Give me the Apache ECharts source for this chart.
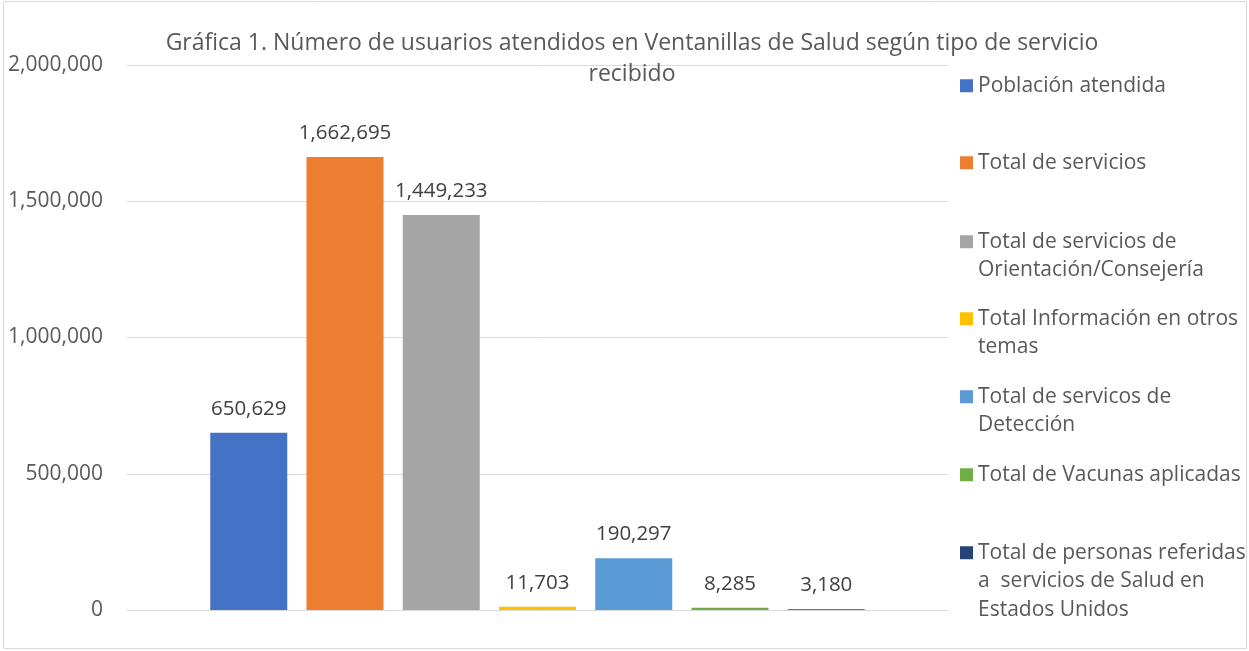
<!DOCTYPE html>
<html>
<head>
<meta charset="utf-8">
<script src="https://cdn.jsdelivr.net/npm/echarts@6/dist/echarts.min.js"></script>
<style>
	html, body { margin: 0; padding: 0; background: #fff; }
	#main { width: 1249px; height: 651px; }
</style>
</head>
<body>
<div id="main"></div>
<script>
var seriesNames = [
		'Población atendida',
		'Total de servicios',
		'Total de servicios de\nOrientación/Consejería',
		'Total Información en otros\ntemas',
		'Total de servicos de\nDetección',
		'Total de Vacunas aplicadas',
		'Total de personas referidas\na  servicios de Salud en\nEstados Unidos'
	],
	seriesValues = [650629, 1662695, 1449233, 11703, 190297, 8285, 3180],
	seriesColors = ['#4472C4', '#ED7D31', '#A5A5A5', '#FFC000', '#5B9BD5', '#70AD47', '#264478'],
	yTicks = [0, 500000, 1000000, 1500000, 2000000];

var chart = echarts.init(document.getElementById('main')),
	font = 'Open Sans',
	lineH = 28.5,
	// centro de la primera línea de cada elemento de la leyenda
	legendY = [84, 161, 240, 317, 395, 473, 551];

function fmt(v){
	return v.toString().replace(/\B(?=(\d{3})+(?!\d))/g, ',');
}

function repeat(s, n){
	var out = '';
	for(var i = 0; i < n; i++) out += s;
	return out;
}

var series = seriesNames.map(function(name, i){
	return {
		name: name,
		type: 'bar',
		data: [seriesValues[i]],
		barWidth: 77,
		barGap: '25%',
		itemStyle: { color: seriesColors[i] },
		label: {
			show: true,
			position: 'top',
			distance: 13,
			formatter: function(p){ return fmt(p.value); },
			color: '#404040',
			fontFamily: font,
			fontSize: 20.5
		}
	};
});

// una leyenda por serie: espaciado fijo como en el original
var legends = seriesNames.map(function(name, i){
	var n = name.split('\n').length;
	return {
		orient: 'vertical',
		left: 960,
		top: legendY[i] - 12.5 - lineH * (n - 1),
		padding: 0,
		itemWidth: 13,
		itemHeight: 13,
		itemGap: 0,
		icon: 'rect',
		selectedMode: false,
		data: [name],
		// líneas vacías arriba para que el icono quede junto a la primera línea
		formatter: function(nm){ return repeat('\n', n - 1) + nm; },
		textStyle: {
			color: '#595959',
			fontFamily: font,
			fontSize: 21,
			lineHeight: lineH
		}
	};
});

chart.setOption({
	animation: false,
	title: {
		text: 'Gráfica 1. Número de usuarios atendidos en Ventanillas de Salud según tipo de servicio\nrecibido',
		left: 627,
		textAlign: 'center',
		top: 23,
		textStyle: {
			color: '#595959',
			fontFamily: font,
			fontSize: 23,
			fontWeight: 'normal',
			lineHeight: 31
		}
	},
	legend: legends,
	grid: {
		left: 127,
		right: 301,
		top: 65,
		bottom: 41,
		containLabel: false
	},
	xAxis: {
		type: 'category',
		data: [''],
		axisLine: { lineStyle: { color: '#d9d9d9', width: 1 } },
		axisTick: { show: false },
		axisLabel: { show: false }
	},
	yAxis: {
		type: 'value',
		min: yTicks[0],
		max: yTicks[yTicks.length - 1],
		interval: 500000,
		axisLine: { show: false },
		axisTick: { show: false },
		splitLine: { lineStyle: { color: '#d9d9d9', width: 1 } },
		axisLabel: {
			margin: 24,
			color: '#595959',
			fontFamily: font,
			fontSize: 21,
			formatter: function(v){ return fmt(v); }
		}
	},
	graphic: [{
		type: 'rect',
		shape: { x: 3.5, y: 1.5, width: 1243, height: 647 },
		style: { fill: 'none', stroke: '#d9d9d9', lineWidth: 1 },
		silent: true
	}],
	series: series
});
</script>
</body>
</html>
